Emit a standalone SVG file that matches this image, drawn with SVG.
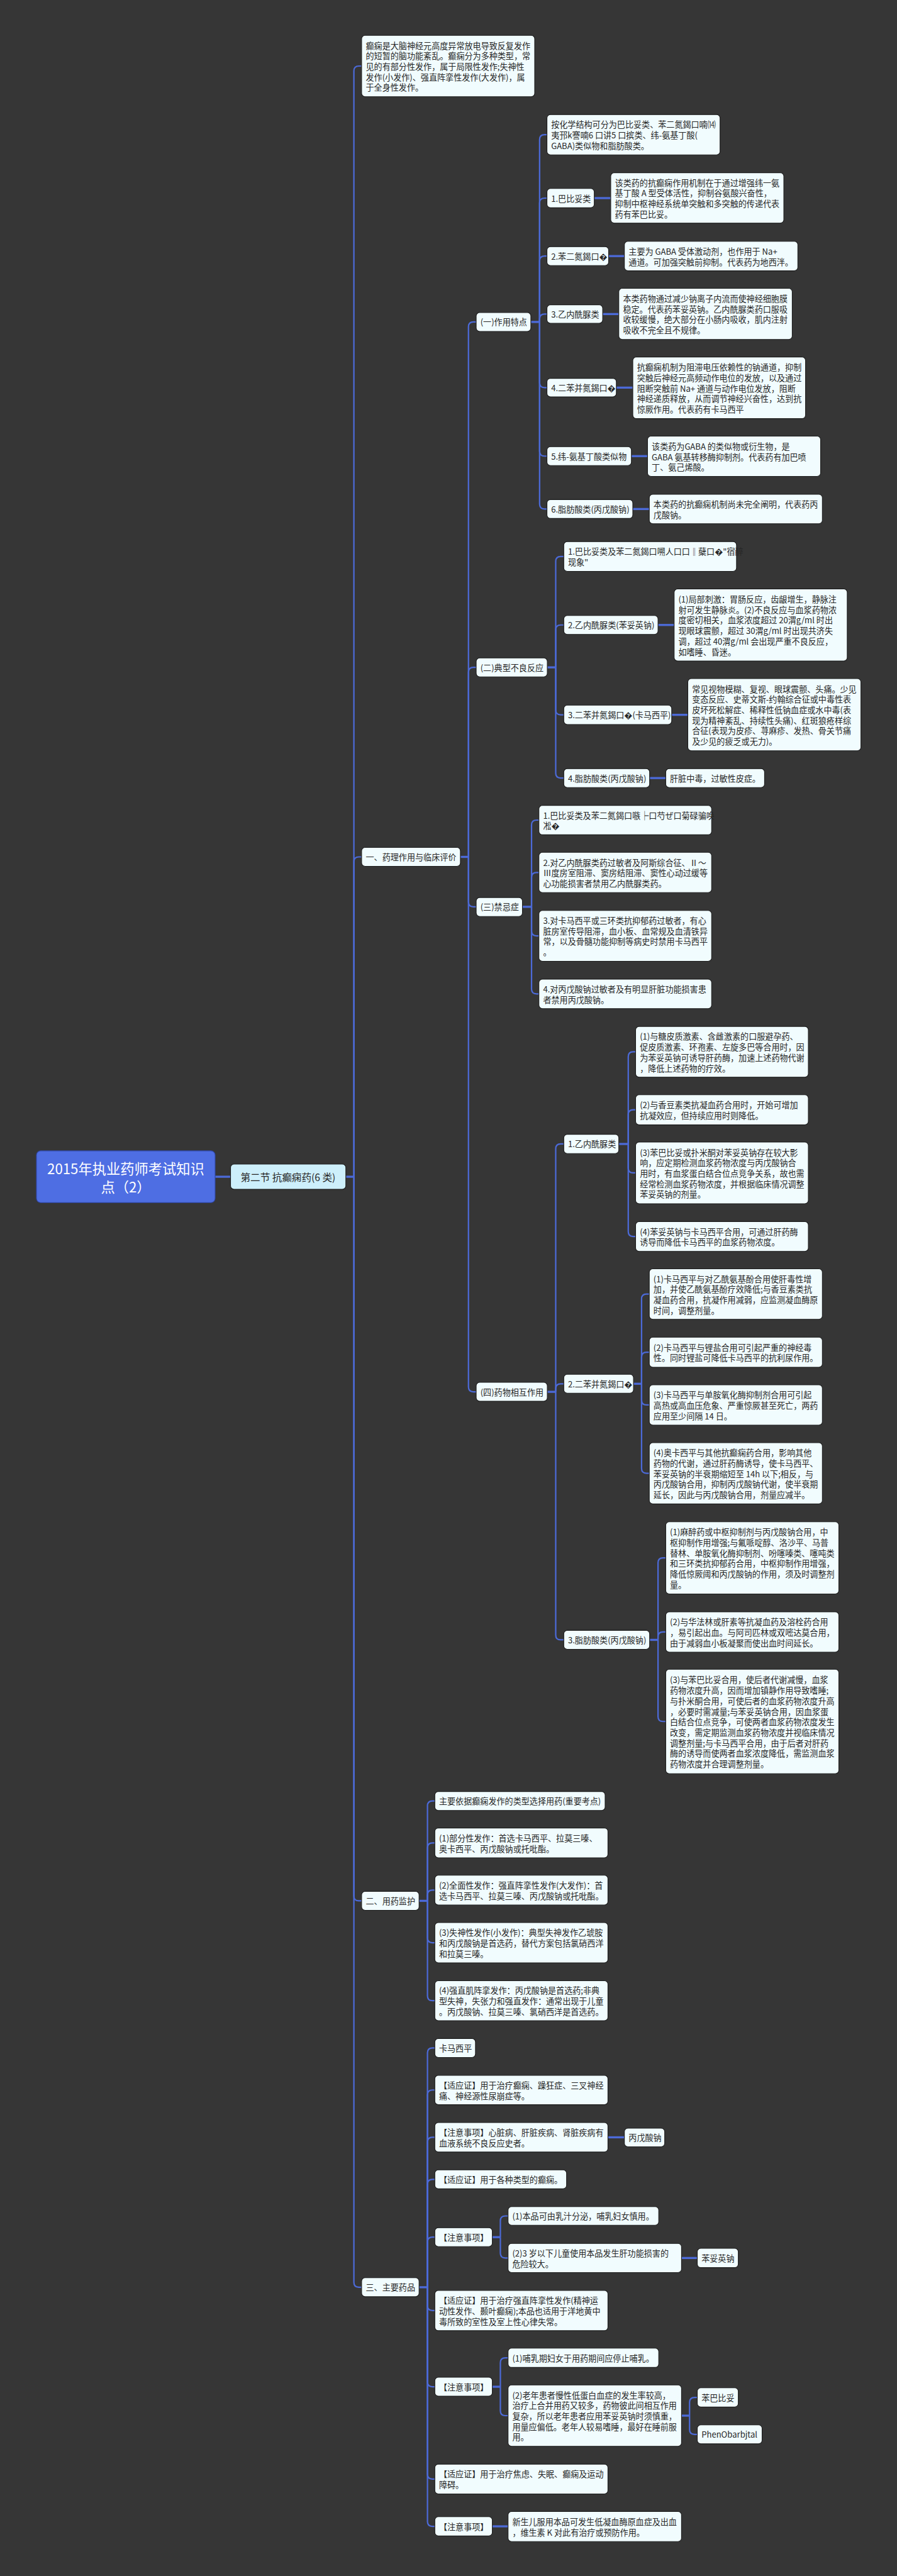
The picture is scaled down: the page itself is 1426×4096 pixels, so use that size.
<svg xmlns="http://www.w3.org/2000/svg" width="1426" height="4096" viewBox="0 0 1426 4096">
<style>
.bg{fill:#363636}
.n rect{fill:#F1FCFE;stroke:#1c1c1c;stroke-width:2}
.n text{font-family:"Noto Sans CJK SC","Noto Sans",sans-serif;font-size:23.5px;fill:#262626;dominant-baseline:central}
#root rect{fill:#4E6EE3;stroke:#2f45a0}
#root text{fill:#ffffff;font-size:40px;text-anchor:middle}
#sec rect{fill:#CDEFFB}
#sec text{font-size:28px;text-anchor:middle}
.c path{fill:none;stroke:#4C6AD8;stroke-width:4}
.c path.s{stroke-width:6}
</style>
<rect class="bg" x="0" y="0" width="1426" height="4096"/>
<g transform="scale(0.557031)">
<g class="c" id="connectors">
<path class="s" d="M614,3359 H658"/>
<path class="s" d="M987,3359 H1010"/>
<path d="M1010,3359 V202.5 Q1010,188.5 1024,188.5 H1032"/>
<path d="M1010,3359 V2460 Q1010,2446 1024,2446 H1032"/>
<path d="M1010,3359 V5412 Q1010,5426 1024,5426 H1032"/>
<path d="M1010,3359 V6515 Q1010,6529 1024,6529 H1032"/>
<path class="s" d="M1314,2446 H1337"/>
<path d="M1337,2446 V933 Q1337,919 1351,919 H1359"/>
<path d="M1337,2446 V1919 Q1337,1905 1351,1905 H1359"/>
<path d="M1337,2446 V2574.5 Q1337,2588.5 1351,2588.5 H1359"/>
<path d="M1337,2446 V3959 Q1337,3973 1351,3973 H1359"/>
<path class="s" d="M1515,919 H1540"/>
<path d="M1540,919 V398.5 Q1540,384.5 1554,384.5 H1561"/>
<path d="M1540,919 V579.5 Q1540,565.5 1554,565.5 H1561"/>
<path d="M1540,919 V745 Q1540,731 1554,731 H1561"/>
<path d="M1540,919 V910.5 Q1540,896.5 1554,896.5 H1561"/>
<path d="M1540,919 V1092.5 Q1540,1106.5 1554,1106.5 H1561"/>
<path d="M1540,919 V1288 Q1540,1302 1554,1302 H1561"/>
<path d="M1540,919 V1439 Q1540,1453 1554,1453 H1561"/>
<path class="s" d="M1696,565.5 H1743"/>
<path class="s" d="M1737,731 H1782"/>
<path class="s" d="M1720,896.5 H1766"/>
<path class="s" d="M1759,1106.5 H1806"/>
<path class="s" d="M1802,1302 H1848"/>
<path class="s" d="M1806,1453 H1853"/>
<path class="s" d="M1562,1905 H1586"/>
<path d="M1586,1905 V1602.5 Q1586,1588.5 1600,1588.5 H1609"/>
<path d="M1586,1905 V1798 Q1586,1784 1600,1784 H1609"/>
<path d="M1586,1905 V2026.5 Q1586,2040.5 1600,2040.5 H1609"/>
<path d="M1586,1905 V2207 Q1586,2221 1600,2221 H1609"/>
<path class="s" d="M1878,1784 H1924"/>
<path class="s" d="M1917,2040.5 H1963"/>
<path class="s" d="M1854,2221 H1900"/>
<path class="s" d="M1491,2588.5 H1517"/>
<path d="M1517,2588.5 V2355 Q1517,2341 1531,2341 H1538"/>
<path d="M1517,2588.5 V2504.5 Q1517,2490.5 1531,2490.5 H1538"/>
<path d="M1517,2588.5 V2657.5 Q1517,2671.5 1531,2671.5 H1538"/>
<path d="M1517,2588.5 V2823 Q1517,2837 1531,2837 H1538"/>
<path class="s" d="M1562,3973 H1586"/>
<path d="M1586,3973 V3279.5 Q1586,3265.5 1600,3265.5 H1609"/>
<path d="M1586,3973 V3964 Q1586,3950 1600,3950 H1609"/>
<path d="M1586,3973 V4667 Q1586,4681 1600,4681 H1609"/>
<path class="s" d="M1766,3265.5 H1793"/>
<path d="M1793,3265.5 V3016.5 Q1793,3002.5 1807,3002.5 H1814"/>
<path d="M1793,3265.5 V3182 Q1793,3168 1807,3168 H1814"/>
<path d="M1793,3265.5 V3334 Q1793,3348 1807,3348 H1814"/>
<path d="M1793,3265.5 V3515.5 Q1793,3529.5 1807,3529.5 H1814"/>
<path class="s" d="M1808,3950 H1831"/>
<path d="M1831,3950 V3708 Q1831,3694 1845,3694 H1853"/>
<path d="M1831,3950 V3874 Q1831,3860 1845,3860 H1853"/>
<path d="M1831,3950 V3996.5 Q1831,4010.5 1845,4010.5 H1853"/>
<path d="M1831,3950 V4191.5 Q1831,4205.5 1845,4205.5 H1853"/>
<path class="s" d="M1854,4681 H1878"/>
<path d="M1878,4681 V4461 Q1878,4447 1892,4447 H1900"/>
<path d="M1878,4681 V4672.5 Q1878,4658.5 1892,4658.5 H1900"/>
<path d="M1878,4681 V4900 Q1878,4914 1892,4914 H1900"/>
<path class="s" d="M1196,5426 H1220"/>
<path d="M1220,5426 V5155 Q1220,5141 1234,5141 H1241"/>
<path d="M1220,5426 V5274.5 Q1220,5260.5 1234,5260.5 H1241"/>
<path d="M1220,5426 V5409.5 Q1220,5395.5 1234,5395.5 H1241"/>
<path d="M1220,5426 V5531.5 Q1220,5545.5 1234,5545.5 H1241"/>
<path d="M1220,5426 V5697 Q1220,5711 1234,5711 H1241"/>
<path class="s" d="M1196,6529 H1220"/>
<path d="M1220,6529 V5860 Q1220,5846 1234,5846 H1241"/>
<path d="M1220,6529 V5980 Q1220,5966 1234,5966 H1241"/>
<path d="M1220,6529 V6115 Q1220,6101 1234,6101 H1241"/>
<path d="M1220,6529 V6235 Q1220,6221 1234,6221 H1241"/>
<path d="M1220,6529 V6400 Q1220,6386 1234,6386 H1241"/>
<path d="M1220,6529 V6581.5 Q1220,6595.5 1234,6595.5 H1241"/>
<path d="M1220,6529 V6799 Q1220,6813 1234,6813 H1241"/>
<path d="M1220,6529 V7062.5 Q1220,7076.5 1234,7076.5 H1241"/>
<path d="M1220,6529 V7197.5 Q1220,7211.5 1234,7211.5 H1241"/>
<path class="s" d="M1735,6101 H1782"/>
<path class="s" d="M1405,6386 H1428"/>
<path d="M1428,6386 V6339.5 Q1428,6325.5 1442,6325.5 H1450"/>
<path d="M1428,6386 V6431.5 Q1428,6445.5 1442,6445.5 H1450"/>
<path class="s" d="M1945,6445.5 H1990"/>
<path class="s" d="M1405,6813 H1428"/>
<path d="M1428,6813 V6744.5 Q1428,6730.5 1442,6730.5 H1450"/>
<path d="M1428,6813 V6881.5 Q1428,6895.5 1442,6895.5 H1450"/>
<path class="s" d="M1945,6895.5 H1968"/>
<path d="M1968,6895.5 V6857.5 Q1968,6843.5 1982,6843.5 H1990"/>
<path d="M1968,6895.5 V6935 Q1968,6949 1982,6949 H1990"/>
<path class="s" d="M1405,7211.5 H1450"/>
</g>

<g class="n" id="root"><rect x="104" y="3285" width="510" height="148" rx="12"/><text><tspan x="359" y="3334">2015年执业药师考试知识</tspan><tspan x="359" y="3386">点（2）</tspan></text></g>
<g class="n" id="sec"><rect x="658" y="3323" width="329" height="72" rx="10"/><text x="822" y="3359">第二节 抗癫痫药(6 类)</text></g>

<g class="n" id="intro"><rect x="1032" y="101" width="494" height="175" rx="10"/><text><tspan x="1044" y="128.5">癫痫是大脑神经元高度异常放电导致反复发作</tspan><tspan x="1044" y="158.5">的短暂的脑功能紊乱。癫痫分为多种类型，常</tspan><tspan x="1044" y="188.5">见的有部分性发作，属于局限性发作;失神性</tspan><tspan x="1044" y="218.5">发作(小发作)、强直阵挛性发作(大发作)，属</tspan><tspan x="1044" y="248.5">于全身性发作。</tspan></text></g>

<g class="n" id="cat1"><rect x="1032" y="2419" width="282" height="54" rx="10"/><text x="1044" y="2446">一、药理作用与临床评价</text></g>
<g class="n" id="cat2"><rect x="1032" y="5399" width="164" height="54" rx="10"/><text x="1044" y="5426">二、用药监护</text></g>
<g class="n" id="cat3"><rect x="1032" y="6502" width="164" height="54" rx="10"/><text x="1044" y="6529">三、主要药品</text></g>

<g class="n" id="sub1"><rect x="1359" y="892" width="156" height="54" rx="10"/><text x="1371" y="919">(一)作用特点</text></g>
<g class="n" id="sub2"><rect x="1359" y="1878" width="203" height="54" rx="10"/><text x="1371" y="1905">(二)典型不良反应</text></g>
<g class="n" id="sub3"><rect x="1359" y="2562" width="132" height="54" rx="10"/><text x="1371" y="2588.5">(三)禁忌症</text></g>
<g class="n" id="sub4"><rect x="1359" y="3946" width="203" height="54" rx="10"/><text x="1371" y="3973">(四)药物相互作用</text></g>

<g class="n" id="a0"><rect x="1561" y="327" width="494" height="115" rx="10"/><text><tspan x="1573" y="354.5">按化学结构可分为巴比妥类、苯二氮鍻口喃⒁</tspan><tspan x="1573" y="384.5">夷邘k謇喃6 口讲5 口摈类、纬-氨基丁酸(</tspan><tspan x="1573" y="414.5">GABA)类似物和脂肪酸类。</tspan></text></g>
<g class="n" id="a1"><rect x="1561" y="538" width="135" height="55" rx="10"/><text x="1573" y="565.5">1.巴比妥类</text></g>
<g class="n" id="a1c"><rect x="1743" y="493" width="494" height="144" rx="10"/><text><tspan x="1755" y="520">该类药的抗癫痫作用机制在于通过增强纬一氨</tspan><tspan x="1755" y="550">基丁酸 A 型受体活性，抑制谷氨酸兴奋性，</tspan><tspan x="1755" y="580">抑制中枢神经系统单突触和多突触的传递代表</tspan><tspan x="1755" y="610">药有苯巴比妥。</tspan></text></g>
<g class="n" id="a2"><rect x="1561" y="704" width="176" height="54" rx="10"/><text x="1573" y="731">2.苯二氮鍻口�</text></g>
<g class="n" id="a2c"><rect x="1782" y="689" width="495" height="84" rx="10"/><text><tspan x="1794" y="716">主要为 GABA 受体激动剂，也作用于 Na+</tspan><tspan x="1794" y="746">通道。可加强突触前抑制。代表药为地西泮。</tspan></text></g>
<g class="n" id="a3"><rect x="1561" y="870" width="159" height="53" rx="10"/><text x="1573" y="896.5">3.乙内酰脲类</text></g>
<g class="n" id="a3c"><rect x="1766" y="823" width="495" height="146" rx="10"/><text><tspan x="1778" y="851">本类药物通过减少钠离子内流而使神经细胞膜</tspan><tspan x="1778" y="881">稳定。代表药苯妥英钠。乙内酰脲类药口服吸</tspan><tspan x="1778" y="911">收较缓慢，绝大部分在小肠内吸收，肌内注射</tspan><tspan x="1778" y="941">吸收不完全且不规律。</tspan></text></g>
<g class="n" id="a4"><rect x="1561" y="1080" width="198" height="53" rx="10"/><text x="1573" y="1106.5">4.二苯并氮鍻口�</text></g>
<g class="n" id="a4c"><rect x="1806" y="1019" width="493" height="176" rx="10"/><text><tspan x="1818" y="1047">抗癫痫机制为阻滞电压依赖性的钠通道，抑制</tspan><tspan x="1818" y="1077">突触后神经元高频动作电位的发放，以及通过</tspan><tspan x="1818" y="1107">阻断突触前 Na+ 通道与动作电位发放，阻断</tspan><tspan x="1818" y="1137">神经递质释放，从而调节神经兴奋性，达到抗</tspan><tspan x="1818" y="1167">惊厥作用。代表药有卡马西平</tspan></text></g>
<g class="n" id="a5"><rect x="1561" y="1275" width="241" height="54" rx="10"/><text x="1573" y="1302">5.纬-氨基丁酸类似物</text></g>
<g class="n" id="a5c"><rect x="1848" y="1245" width="494" height="115" rx="10"/><text><tspan x="1860" y="1272.5">该类药为GABA 的类似物或衍生物，是</tspan><tspan x="1860" y="1302.5">GABA 氨基转移酶抑制剂。代表药有加巴喷</tspan><tspan x="1860" y="1332.5">丁、氨己烯酸。</tspan></text></g>
<g class="n" id="a6"><rect x="1561" y="1426" width="245" height="54" rx="10"/><text x="1573" y="1453">6.脂肪酸类(丙戊酸钠)</text></g>
<g class="n" id="a6c"><rect x="1853" y="1411" width="494" height="84" rx="10"/><text><tspan x="1865" y="1438">本类药的抗癫痫机制尚未完全阐明，代表药丙</tspan><tspan x="1865" y="1468">戊酸钠。</tspan></text></g>

<g class="n" id="b1"><rect x="1609" y="1546" width="493" height="85" rx="10"/><text><tspan x="1621" y="1573.5">1.巴比妥类及苯二氮鍻口嗍人口口‖蘖口�"宿醉</tspan><tspan x="1621" y="1603.5">现象"</tspan></text></g>
<g class="n" id="b2"><rect x="1609" y="1757" width="269" height="54" rx="10"/><text x="1621" y="1784">2.乙内酰脲类(苯妥英钠)</text></g>
<g class="n" id="b2c"><rect x="1924" y="1681" width="494" height="206" rx="10"/><text><tspan x="1936" y="1709">(1)局部刺激：胃肠反应，齿龈增生，静脉注</tspan><tspan x="1936" y="1739">射可发生静脉炎。(2)不良反应与血浆药物浓</tspan><tspan x="1936" y="1769">度密切相关，血浆浓度超过 20渭g/ml 时出</tspan><tspan x="1936" y="1799">现眼球震颤，超过 30渭g/ml 时出现共济失</tspan><tspan x="1936" y="1829">调，超过 40渭g/ml 会出现严重不良反应，</tspan><tspan x="1936" y="1859">如嗜睡、昏迷。</tspan></text></g>
<g class="n" id="b3"><rect x="1609" y="2013" width="308" height="55" rx="10"/><text x="1621" y="2040.5">3.二苯并氮鍻口�(卡马西平)</text></g>
<g class="n" id="b3c"><rect x="1963" y="1937" width="494" height="206" rx="10"/><text><tspan x="1975" y="1965">常见视物模糊、复视、眼球震颤、头痛。少见</tspan><tspan x="1975" y="1995">变态反应、史蒂文斯-约翰综合征或中毒性表</tspan><tspan x="1975" y="2025">皮坏死松解症、稀释性低钠血症或水中毒(表</tspan><tspan x="1975" y="2055">现为精神紊乱、持续性头痛)、红斑狼疮样综</tspan><tspan x="1975" y="2085">合征(表现为皮疹、荨麻疹、发热、骨关节痛</tspan><tspan x="1975" y="2115">及少见的疲乏或无力)。</tspan></text></g>
<g class="n" id="b4"><rect x="1609" y="2194" width="245" height="54" rx="10"/><text x="1621" y="2221">4.脂肪酸类(丙戊酸钠)</text></g>
<g class="n" id="b4c"><rect x="1900" y="2194" width="282" height="54" rx="10"/><text x="1912" y="2221">肝脏中毒，过敏性皮症。</text></g>

<g class="n" id="c1"><rect x="1538" y="2299" width="493" height="84" rx="10"/><text><tspan x="1550" y="2326">1.巴比妥类及苯二氮鍻口嗾╞口芍ぜ口菊碌骗唤</tspan><tspan x="1550" y="2356">凇�</tspan></text></g>
<g class="n" id="c2"><rect x="1538" y="2433" width="493" height="115" rx="10"/><text><tspan x="1550" y="2460.5">2.对乙内酰脲类药过敏者及阿斯综合征、Ⅱ～</tspan><tspan x="1550" y="2490.5">Ⅲ度房室阻滞、窦房结阻滞、窦性心动过缓等</tspan><tspan x="1550" y="2520.5">心功能损害者禁用乙内酰脲类药。</tspan></text></g>
<g class="n" id="c3"><rect x="1538" y="2599" width="493" height="145" rx="10"/><text><tspan x="1550" y="2626.5">3.对卡马西平或三环类抗抑郁药过敏者，有心</tspan><tspan x="1550" y="2656.5">脏房室传导阻滞，血小板、血常规及血清铁异</tspan><tspan x="1550" y="2686.5">常，以及骨髓功能抑制等病史时禁用卡马西平</tspan><tspan x="1550" y="2716.5">。</tspan></text></g>
<g class="n" id="c4"><rect x="1538" y="2795" width="493" height="84" rx="10"/><text><tspan x="1550" y="2822">4.对丙戊酸钠过敏者及有明显肝脏功能损害患</tspan><tspan x="1550" y="2852">者禁用丙戊酸钠。</tspan></text></g>

<g class="n" id="d1"><rect x="1609" y="3238" width="157" height="55" rx="10"/><text x="1621" y="3265.5">1.乙内酰脲类</text></g>
<g class="n" id="d1a"><rect x="1814" y="2930" width="493" height="145" rx="10"/><text><tspan x="1826" y="2957.5">(1)与糖皮质激素、含雌激素的口服避孕药、</tspan><tspan x="1826" y="2987.5">促皮质激素、环孢素、左旋多巴等合用时，因</tspan><tspan x="1826" y="3017.5">为苯妥英钠可诱导肝药酶，加速上述药物代谢</tspan><tspan x="1826" y="3047.5">，降低上述药物的疗效。</tspan></text></g>
<g class="n" id="d1b"><rect x="1814" y="3125" width="493" height="86" rx="10"/><text><tspan x="1826" y="3153">(2)与香豆素类抗凝血药合用时，开始可增加</tspan><tspan x="1826" y="3183">抗凝效应，但持续应用时则降低。</tspan></text></g>
<g class="n" id="d1c"><rect x="1814" y="3260" width="493" height="176" rx="10"/><text><tspan x="1826" y="3288">(3)苯巴比妥或扑米酮对苯妥英钠存在较大影</tspan><tspan x="1826" y="3318">响，应定期检测血浆药物浓度与丙戊酸钠合</tspan><tspan x="1826" y="3348">用时，有血浆蛋白结合位点竞争关系，故也需</tspan><tspan x="1826" y="3378">经常检测血浆药物浓度，并根据临床情况调整</tspan><tspan x="1826" y="3408">苯妥英钠的剂量。</tspan></text></g>
<g class="n" id="d1d"><rect x="1814" y="3487" width="493" height="85" rx="10"/><text><tspan x="1826" y="3514.5">(4)苯妥英钠与卡马西平合用，可通过肝药酶</tspan><tspan x="1826" y="3544.5">诱导而降低卡马西平的血浆药物浓度。</tspan></text></g>
<g class="n" id="d2"><rect x="1609" y="3923" width="199" height="54" rx="10"/><text x="1621" y="3950">2.二苯并氮鍻口�</text></g>
<g class="n" id="d2a"><rect x="1853" y="3622" width="494" height="144" rx="10"/><text><tspan x="1865" y="3649">(1)卡马西平与对乙酰氨基酚合用使肝毒性增</tspan><tspan x="1865" y="3679">加，并使乙酰氨基酚疗效降低;与香豆素类抗</tspan><tspan x="1865" y="3709">凝血药合用，抗凝作用减弱，应监测凝血酶原</tspan><tspan x="1865" y="3739">时间，调整剂量。</tspan></text></g>
<g class="n" id="d2b"><rect x="1853" y="3817" width="494" height="86" rx="10"/><text><tspan x="1865" y="3845">(2)卡马西平与锂盐合用可引起严重的神经毒</tspan><tspan x="1865" y="3875">性。同时锂盐可降低卡马西平的抗利尿作用。</tspan></text></g>
<g class="n" id="d2c"><rect x="1853" y="3953" width="494" height="115" rx="10"/><text><tspan x="1865" y="3980.5">(3)卡马西平与单胺氧化酶抑制剂合用可引起</tspan><tspan x="1865" y="4010.5">高热或高血压危象、严重惊厥甚至死亡，两药</tspan><tspan x="1865" y="4040.5">应用至少间隔 14 日。</tspan></text></g>
<g class="n" id="d2d"><rect x="1853" y="4118" width="494" height="175" rx="10"/><text><tspan x="1865" y="4145.5">(4)奥卡西平与其他抗癫痫药合用，影响其他</tspan><tspan x="1865" y="4175.5">药物的代谢，通过肝药酶诱导，使卡马西平、</tspan><tspan x="1865" y="4205.5">苯妥英钠的半衰期缩短至 14h 以下;相反，与</tspan><tspan x="1865" y="4235.5">丙戊酸钠合用，抑制丙戊酸钠代谢，使半衰期</tspan><tspan x="1865" y="4265.5">延长，因此与丙戊酸钠合用，剂量应减半。</tspan></text></g>
<g class="n" id="d3"><rect x="1609" y="4654" width="245" height="54" rx="10"/><text x="1621" y="4681">3.脂肪酸类(丙戊酸钠)</text></g>
<g class="n" id="d3a"><rect x="1900" y="4344" width="494" height="206" rx="10"/><text><tspan x="1912" y="4372">(1)麻醉药或中枢抑制剂与丙戊酸钠合用，中</tspan><tspan x="1912" y="4402">枢抑制作用增强;与氟哌啶醇、洛沙平、马普</tspan><tspan x="1912" y="4432">替林、单胺氧化酶抑制剂、吩噻嗪类、噻吨类</tspan><tspan x="1912" y="4462">和三环类抗抑郁药合用，中枢抑制作用增强，</tspan><tspan x="1912" y="4492">降低惊厥阈和丙戊酸钠的作用，须及时调整剂</tspan><tspan x="1912" y="4522">量。</tspan></text></g>
<g class="n" id="d3b"><rect x="1900" y="4601" width="494" height="115" rx="10"/><text><tspan x="1912" y="4628.5">(2)与华法林或肝素等抗凝血药及溶栓药合用</tspan><tspan x="1912" y="4658.5">，易引起出血。与阿司匹林或双嘧达莫合用，</tspan><tspan x="1912" y="4688.5">由于减弱血小板凝聚而使出血时间延长。</tspan></text></g>
<g class="n" id="d3c"><rect x="1900" y="4765" width="494" height="298" rx="10"/><text><tspan x="1912" y="4794">(3)与苯巴比妥合用，使后者代谢减慢，血浆</tspan><tspan x="1912" y="4824">药物浓度升高，因而增加镇静作用导致嗜睡;</tspan><tspan x="1912" y="4854">与扑米酮合用，可使后者的血浆药物浓度升高</tspan><tspan x="1912" y="4884">，必要时需减量;与苯妥英钠合用，因血浆蛋</tspan><tspan x="1912" y="4914">白结合位点竞争，可使两者血浆药物浓度发生</tspan><tspan x="1912" y="4944">改变，需定期监测血浆药物浓度并视临床情况</tspan><tspan x="1912" y="4974">调整剂量;与卡马西平合用，由于后者对肝药</tspan><tspan x="1912" y="5004">酶的诱导而使两者血浆浓度降低，需监测血浆</tspan><tspan x="1912" y="5034">药物浓度并合理调整剂量。</tspan></text></g>

<g class="n" id="e0"><rect x="1241" y="5114" width="486" height="54" rx="10"/><text x="1253" y="5141">主要依据癫痫发作的类型选择用药(重要考点)</text></g>
<g class="n" id="e1"><rect x="1241" y="5218" width="494" height="85" rx="10"/><text><tspan x="1253" y="5245.5">(1)部分性发作：首选卡马西平、拉莫三嗪、</tspan><tspan x="1253" y="5275.5">奥卡西平、丙戊酸钠或托吡酯。</tspan></text></g>
<g class="n" id="e2"><rect x="1241" y="5353" width="494" height="85" rx="10"/><text><tspan x="1253" y="5380.5">(2)全面性发作：强直阵挛性发作(大发作)：首</tspan><tspan x="1253" y="5410.5">选卡马西平、拉莫三嗪、丙戊酸钠或托吡酯。</tspan></text></g>
<g class="n" id="e3"><rect x="1241" y="5488" width="494" height="115" rx="10"/><text><tspan x="1253" y="5515.5">(3)失神性发作(小发作)：典型失神发作乙琥胺</tspan><tspan x="1253" y="5545.5">和丙戊酸钠是首选药，替代方案包括氯硝西洋</tspan><tspan x="1253" y="5575.5">和拉莫三嗪。</tspan></text></g>
<g class="n" id="e4"><rect x="1241" y="5654" width="494" height="114" rx="10"/><text><tspan x="1253" y="5681">(4)强直肌阵挛发作：丙戊酸钠是首选药;非典</tspan><tspan x="1253" y="5711">型失神，失张力和强直发作：通常出现于儿童</tspan><tspan x="1253" y="5741">。丙戊酸钠、拉莫三嗪、氯硝西洋是首选药。</tspan></text></g>

<g class="n" id="f1"><rect x="1241" y="5819" width="116" height="54" rx="10"/><text x="1253" y="5846">卡马西平</text></g>
<g class="n" id="f2"><rect x="1241" y="5924" width="494" height="84" rx="10"/><text><tspan x="1253" y="5951">【适应证】用于治疗癫痫、躁狂症、三叉神经</tspan><tspan x="1253" y="5981">痛、神经源性尿崩症等。</tspan></text></g>
<g class="n" id="f3"><rect x="1241" y="6059" width="494" height="84" rx="10"/><text><tspan x="1253" y="6086">【注意事项】心脏病、肝脏疾病、肾脏疾病有</tspan><tspan x="1253" y="6116">血液系统不良反应史者。</tspan></text></g>
<g class="n" id="f3c"><rect x="1782" y="6075" width="115" height="53" rx="10"/><text x="1794" y="6101.5">丙戊酸钠</text></g>
<g class="n" id="f4"><rect x="1241" y="6194" width="376" height="54" rx="10"/><text x="1253" y="6221">【适应证】用于各种类型的癫痫。</text></g>
<g class="n" id="f5"><rect x="1241" y="6359" width="164" height="54" rx="10"/><text x="1253" y="6386">【注意事项】</text></g>
<g class="n" id="f5a"><rect x="1450" y="6299" width="430" height="53" rx="10"/><text x="1462" y="6325.5">(1)本品可由乳汁分泌，哺乳妇女慎用。</text></g>
<g class="n" id="f5b"><rect x="1450" y="6404" width="495" height="83" rx="10"/><text><tspan x="1462" y="6430.5">(2)3 岁以下儿童使用本品发生肝功能损害的</tspan><tspan x="1462" y="6460.5">危险较大。</tspan></text></g>
<g class="n" id="f5bc"><rect x="1990" y="6418" width="117" height="55" rx="10"/><text x="2002" y="6445.5">苯妥英钠</text></g>
<g class="n" id="f6"><rect x="1241" y="6538" width="494" height="115" rx="10"/><text><tspan x="1253" y="6565.5">【适应证】用于治疗强直阵挛性发作(精神运</tspan><tspan x="1253" y="6595.5">动性发作、颞叶癫痫);本品也适用于洋地黄中</tspan><tspan x="1253" y="6625.5">毒所致的室性及室上性心律失常。</tspan></text></g>
<g class="n" id="f7"><rect x="1241" y="6786" width="164" height="54" rx="10"/><text x="1253" y="6813">【注意事项】</text></g>
<g class="n" id="f7a"><rect x="1450" y="6703" width="430" height="55" rx="10"/><text x="1462" y="6730.5">(1)哺乳期妇女于用药期间应停止哺乳。</text></g>
<g class="n" id="f7b"><rect x="1450" y="6808" width="495" height="175" rx="10"/><text><tspan x="1462" y="6835.5">(2)老年患者慢性低蛋白血症的发生率较高，</tspan><tspan x="1462" y="6865.5">治疗上合并用药又较多，药物彼此间相互作用</tspan><tspan x="1462" y="6895.5">复杂，所以老年患者应用苯妥英钠时须慎重，</tspan><tspan x="1462" y="6925.5">用量应偏低。老年人较易嗜睡，最好在睡前服</tspan><tspan x="1462" y="6955.5">用。</tspan></text></g>
<g class="n" id="f7b1"><rect x="1990" y="6816" width="117" height="55" rx="10"/><text x="2002" y="6843.5">苯巴比妥</text></g>
<g class="n" id="f7b2"><rect x="1990" y="6922" width="185" height="54" rx="10"/><text x="2002" y="6949">PhenObarbjtal</text></g>
<g class="n" id="f8"><rect x="1241" y="7034" width="494" height="85" rx="10"/><text><tspan x="1253" y="7061.5">【适应证】用于治疗焦虑、失眠、癫痫及运动</tspan><tspan x="1253" y="7091.5">障碍。</tspan></text></g>
<g class="n" id="f9"><rect x="1241" y="7184" width="164" height="55" rx="10"/><text x="1253" y="7211.5">【注意事项】</text></g>
<g class="n" id="f9c"><rect x="1450" y="7169" width="495" height="86" rx="10"/><text><tspan x="1462" y="7197">新生儿服用本品可发生低凝血酶原血症及出血</tspan><tspan x="1462" y="7227">，维生素 K 对此有治疗或预防作用。</tspan></text></g>
</g>
</svg>
